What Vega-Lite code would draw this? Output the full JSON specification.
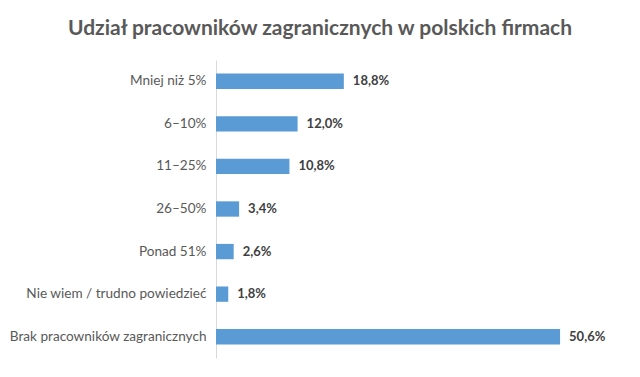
{
  "$schema": "https://vega.github.io/schema/vega-lite/v6.json",
  "width": 374,
  "height": 298,
  "autosize": "none",
  "padding": {"left": 216, "top": 60, "right": 50, "bottom": 19},
  "background": "white",
  "title": {
    "text": "Udział pracowników zagranicznych w polskich firmach",
    "font": "Lato",
    "fontSize": 21,
    "fontWeight": "bold",
    "color": "#595959",
    "anchor": "middle",
    "frame": "group",
    "dx": -83,
    "offset": 21
  },
  "data": {
    "values": [
      {"kat": "Mniej niż 5%", "v": 18.8, "lab": "18,8%"},
      {"kat": "6–10%", "v": 12.0, "lab": "12,0%"},
      {"kat": "11–25%", "v": 10.8, "lab": "10,8%"},
      {"kat": "26–50%", "v": 3.4, "lab": "3,4%"},
      {"kat": "Ponad 51%", "v": 2.6, "lab": "2,6%"},
      {"kat": "Nie wiem / trudno powiedzieć", "v": 1.8, "lab": "1,8%"},
      {"kat": "Brak pracowników zagranicznych", "v": 50.6, "lab": "50,6%"}
    ]
  },
  "encoding": {
    "y": {
      "field": "kat",
      "type": "nominal",
      "sort": null,
      "scale": {"paddingInner": 0.64, "paddingOuter": 0.32},
      "axis": {
        "title": null,
        "ticks": false,
        "domainColor": "#d9d9d9",
        "domainWidth": 1,
        "labelFont": "Lato",
        "labelFontSize": 13.6,
        "labelColor": "#595959",
        "labelPadding": 10,
        "labelLimit": 260
      }
    },
    "x": {
      "field": "v",
      "type": "quantitative",
      "scale": {"domain": [0, 55], "nice": false},
      "axis": null
    }
  },
  "layer": [
    {"mark": {"type": "bar", "color": "#5B9BD5"}},
    {
      "mark": {"type": "text", "align": "left", "dx": 9, "font": "Lato", "fontSize": 13, "fontWeight": "bold", "color": "#404040"},
      "encoding": {"text": {"field": "lab"}}
    }
  ],
  "config": {"view": {"stroke": null}}
}
